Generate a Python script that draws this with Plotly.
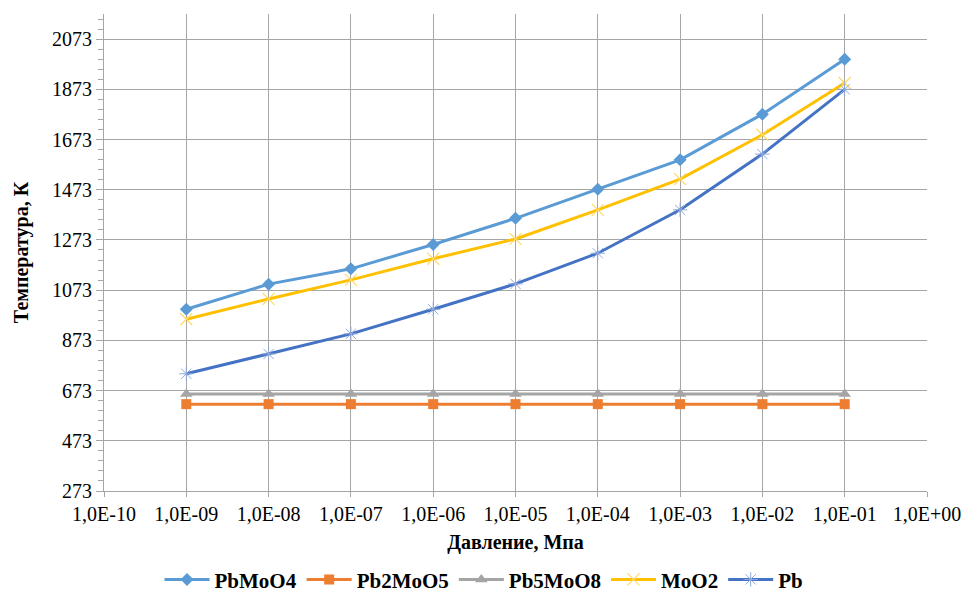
import plotly.graph_objects as go

# Pressure points, MPa
pressure = [1e-9, 1e-8, 1e-7, 1e-6, 1e-5, 1e-4, 1e-3, 1e-2, 1e-1]

# Temperatures, K
t_pbmoo4 = [997, 1097, 1158, 1255, 1359, 1475, 1592, 1774, 1993]
t_pb2moo5 = [619, 619, 619, 619, 619, 619, 619, 619, 619]
t_pb5moo8 = [659, 659, 659, 659, 659, 659, 659, 659, 659]
t_moo2 = [957, 1038, 1114, 1198, 1277, 1393, 1515, 1692, 1898]
t_pb = [740, 819, 899, 997, 1098, 1220, 1393, 1615, 1873]

x_tickvals = [1e-10, 1e-9, 1e-8, 1e-7, 1e-6, 1e-5, 1e-4, 1e-3, 1e-2, 1e-1, 1e0]
x_ticktext = ["1,0E-10", "1,0E-09", "1,0E-08", "1,0E-07", "1,0E-06", "1,0E-05",
              "1,0E-04", "1,0E-03", "1,0E-02", "1,0E-01", "1,0E+00"]
y_tickvals = [273, 473, 673, 873, 1073, 1273, 1473, 1673, 1873, 2073]

FONT = "Times New Roman, Liberation Serif, DejaVu Serif, serif"
GRID = "#a6a6a6"

# (name, values, line colour, marker colour, marker style)
series = [
    ("PbMoO4", t_pbmoo4, "#5B9BD5", "#5B9BD5", dict(symbol="diamond", size=10)),
    ("Pb2MoO5", t_pb2moo5, "#ED7D31", "#ED7D31", dict(symbol="square", size=10)),
    ("Pb5MoO8", t_pb5moo8, "#A5A5A5", "#A5A5A5", dict(symbol="triangle-up", size=11)),
    ("MoO2", t_moo2, "#FFC000", "#FFD966",
     dict(symbol="x-thin-open", size=12, line=dict(width=1.2))),
    ("Pb", t_pb, "#4472C4", "#8FAADC",
     dict(symbol="asterisk-open", size=12, line=dict(width=1))),
]

fig = go.Figure()
for name, ys, lcolor, mcolor, marker in series:
    m = dict(color=mcolor)
    m.update(marker)
    fig.add_trace(go.Scatter(
        x=pressure, y=ys, name=name, mode="lines+markers",
        line=dict(color=lcolor, width=3), marker=m,
    ))

fig.update_layout(
    width=968, height=594,
    margin=dict(l=104, r=41, t=14, b=103, autoexpand=False),
    paper_bgcolor="white", plot_bgcolor="white",
    font=dict(family=FONT, size=20, color="black"),
    showlegend=True,
    legend=dict(
        orientation="h", xref="container", yref="container",
        x=0.5, xanchor="center", y=0.024, yanchor="middle",
        font=dict(family=FONT, size=21, color="black", weight="bold"),
        itemwidth=45, tracegroupgap=0,
    ),
)

fig.update_xaxes(
    type="log", range=[-10, 0],
    tickvals=x_tickvals, ticktext=x_ticktext,
    showgrid=True, gridcolor=GRID, gridwidth=1,
    showline=True, linecolor=GRID, linewidth=1,
    ticks="outside", ticklen=5, tickcolor=GRID,
    tickfont=dict(family=FONT, size=20, color="black"),
    zeroline=False,
    title=dict(text="Давление, Мпа", standoff=10,
               font=dict(family=FONT, size=20, color="black", weight="bold")),
)

fig.update_yaxes(
    range=[273, 2173],
    tickvals=y_tickvals,
    showgrid=True, gridcolor=GRID, gridwidth=1,
    showline=True, linecolor=GRID, linewidth=1,
    ticks="outside", ticklen=7, tickcolor=GRID,
    minor=dict(ticks="outside", ticklen=5, tickcolor=GRID, dtick=40,
               tick0=273, showgrid=False),
    tickfont=dict(family=FONT, size=20, color="black"),
    zeroline=False,
    title=dict(text="Температура, К", standoff=18,
               font=dict(family=FONT, size=20, color="black", weight="bold")),
)

fig.write_html("out.html")
